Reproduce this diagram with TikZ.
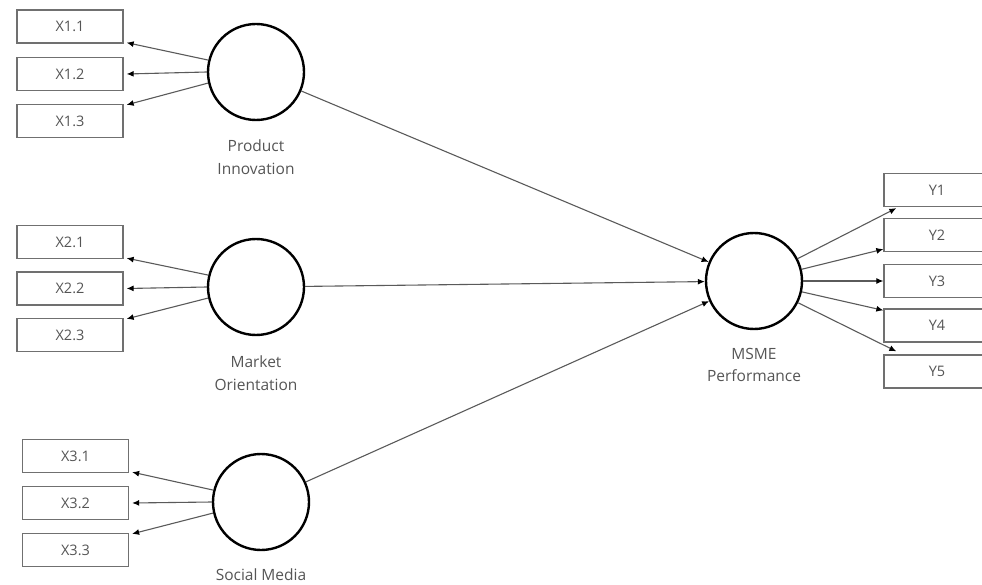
\documentclass[tikz,border=0pt]{standalone}
\usepackage{fontspec}
\setmainfont{Open Sans}
\usetikzlibrary{calc,arrows.meta}
\definecolor{txt}{HTML}{555555}
\definecolor{boxc}{HTML}{707070}
\definecolor{linec}{HTML}{5A5A5A}
\begin{document}
\begin{tikzpicture}[x=1pt,y=-1pt,
  ind/.style={draw=boxc,line width=1.3pt,minimum width=106pt,minimum height=33pt,inner sep=0pt,text=txt,font=\fontsize{14.5}{16}\selectfont},
  lat/.style={circle,draw=black,line width=2.4pt,minimum size=96pt,inner sep=0pt},
  lbl/.style={text=txt,align=center,font=\fontsize{15.5}{22.5}\selectfont},
  conn/.style={draw=linec,line width=1.1pt,-{Latex[length=7pt,width=6pt,black]}}]
\useasboundingbox (0,0) rectangle (982,585);
% latent variables
\node[lat] (pi) at (256,72) {};
\node[lat] (mo) at (256,287) {};
\node[lat] (sm) at (261,502) {};
\node[lat] (ms) at (754,281) {};
% labels
\node[lbl] (pil) at (256,157) {Product\\Innovation};
\node[lbl] (mol) at (256,373) {Market\\Orientation};
\node[lbl] (msl) at (754,365) {MSME\\Performance};
\node[lbl] (sml) at (261,575) {Social Media};
% indicators
\node[ind] (x11) at (70,26.5) {X1.1};
\node[ind] (x12) at (70,74) {X1.2};
\node[ind] (x13) at (70,121) {X1.3};
\node[ind] (x21) at (70,242) {X2.1};
\node[ind] (x22) at (70,288.5) {X2.2};
\node[ind] (x23) at (70,335) {X2.3};
\node[ind] (x31) at (75.5,456) {X3.1};
\node[ind] (x32) at (75.5,503) {X3.2};
\node[ind] (x33) at (75.5,550) {X3.3};
\node[ind] (y1) at (937,190) {Y1};
\node[ind] (y2) at (937,235) {Y2};
\node[ind] (y3) at (937,281) {Y3};
\node[ind] (y4) at (937,325.5) {Y4};
\node[ind] (y5) at (937,371.5) {Y5};
% outer loadings
\foreach \l/\x in {pi/x1,mo/x2,sm/x3}{
  \draw[conn] (\l.166.5) -- ($(\x1.south east)+(3,-1)$);
  \draw[conn] (\l.180) -- ($(\x2.east)+(3,0)$);
  \draw[conn] (\l.193.5) -- ($(\x3.north east)+(3,1)$);
}
% structural paths
\draw[conn] (pi) -- (ms);
\draw[conn] (mo) -- (ms);
\draw[conn] (sm) -- (ms);
% MSME indicators
\draw[conn] (ms) -- ($(y1.south west)+(13,1)$);
\draw[conn] (ms) -- ($(y2.south west)+(0,-3)$);
\draw[conn] (ms) -- (y3.west);
\draw[conn] (ms) -- ($(y4.north west)+(0,2)$);
\draw[conn] (ms) -- ($(y5.north west)+(13,-3)$);
\end{tikzpicture}
\end{document}
